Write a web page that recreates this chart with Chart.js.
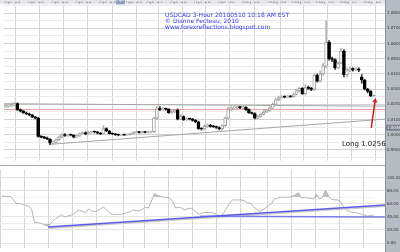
<!DOCTYPE html>
<html><head><meta charset="utf-8">
<script src="https://cdn.jsdelivr.net/npm/chart.js@4"></script>
<style>
html,body{margin:0;padding:0;background:#fff;}
#wrap{position:relative;width:400px;height:252px;overflow:hidden;font-family:"DejaVu Sans",sans-serif;}
#pA{position:absolute;left:0;top:0;width:400px;height:165px;}
#pB{position:absolute;left:0;top:165px;width:400px;height:87px;}
.t{position:absolute;white-space:nowrap;}
</style></head><body>
<div id="wrap">
<div id="pA"><canvas id="cA" width="400" height="165"></canvas></div>
<div id="pB"><canvas id="cB" width="400" height="87"></canvas></div>
<div class="t" style="left:165px;top:12px;color:#3b3bef;font-size:6px;line-height:6px">USDCAD 3-Hour 20100510 10:18 AM EST<br>© Dianne Fecteau, 2010<br>www.forexreflections.blogspot.com</div>
<div class="t" style="left:342px;top:141px;font-size:7px;line-height:7px;color:#222">Long 1.0256</div>
</div>
<script>
// ---- data ----
const dayLabels = ['Apr 19','Apr 20','Apr 21','Apr 22','Apr 23','Apr 26','Apr 27','Apr 28','Apr 29','Apr 30','May 03','May 04','May 05','May 06','May 07','May 10'];
const dayStart  = [0,8,16,24,32,41,48,56,64,72,80,89,97,105,113,121];

const open = [1.0185,1.0188,1.0190,1.0195,1.0205,1.0165,1.0155,1.0145,1.0138,1.0130,1.0118,1.0110,0.9990,0.9985,0.9980,0.9972,
0.9945,0.9950,0.9968,0.9985,1.0000,0.9995,1.0000,0.9998,0.9985,0.9995,1.0008,1.0015,1.0005,1.0015,1.0020,1.0018,
1.0010,1.0005,1.0040,1.0025,1.0008,1.0005,1.0000,0.9998,1.0000,0.9998,1.0002,1.0008,1.0015,1.0018,1.0015,1.0018,
1.0015,1.0018,1.0020,1.0110,1.0170,1.0165,1.0170,1.0168,1.0145,1.0150,1.0162,1.0103,1.0120,1.0100,1.0105,1.0103,
1.0095,1.0085,1.0040,1.0038,1.0055,1.0062,1.0055,1.0052,1.0048,1.0038,1.0060,1.0110,1.0165,1.0175,1.0178,1.0180,
1.0178,1.0180,1.0165,1.0145,1.0140,1.0110,1.0120,1.0135,1.0150,1.0160,1.0175,1.0200,1.0230,1.0245,1.0250,1.0248,
1.0252,1.0250,1.0265,1.0290,1.0305,1.0270,1.0310,1.0305,1.0298,1.0390,1.0352,1.0400,1.0451,1.0610,1.0500,1.0495,
1.0440,1.0470,1.0550,1.0395,1.0425,1.0430,1.0428,1.0432,1.0380,1.0360,1.0300,1.0285,1.0255];
const high = [1.0200,1.0205,1.0210,1.0212,1.0210,1.0170,1.0160,1.0150,1.0142,1.0135,1.0122,1.0115,0.9995,0.9990,0.9985,0.9975,
0.9960,0.9972,0.9992,1.0008,1.0008,1.0005,1.0005,1.0000,1.0000,1.0012,1.0020,1.0020,1.0022,1.0025,1.0025,1.0022,
1.0015,1.0060,1.0045,1.0030,1.0012,1.0010,1.0005,1.0005,1.0005,1.0008,1.0012,1.0020,1.0022,1.0022,1.0022,1.0022,
1.0022,1.0025,1.0115,1.0185,1.0185,1.0178,1.0175,1.0172,1.0160,1.0168,1.0170,1.0135,1.0125,1.0110,1.0110,1.0108,
1.0100,1.0090,1.0045,1.0065,1.0070,1.0068,1.0062,1.0058,1.0052,1.0065,1.0118,1.0180,1.0185,1.0185,1.0188,1.0185,
1.0186,1.0185,1.0170,1.0150,1.0145,1.0130,1.0145,1.0160,1.0168,1.0185,1.0210,1.0240,1.0255,1.0258,1.0256,1.0260,
1.0258,1.0275,1.0300,1.0312,1.0310,1.0330,1.0320,1.0312,1.0395,1.0400,1.0420,1.0470,1.0750,1.0620,1.0510,1.0500,
1.0480,1.0570,1.0560,1.0440,1.0445,1.0440,1.0440,1.0440,1.0395,1.0365,1.0305,1.0290,1.0262];
const low = [1.0180,1.0180,1.0185,1.0190,1.0160,1.0150,1.0140,1.0132,1.0125,1.0112,1.0105,0.9985,0.9980,0.9975,0.9968,0.9935,
0.9935,0.9945,0.9962,0.9980,0.9990,0.9990,0.9992,0.9980,0.9982,0.9990,1.0002,1.0000,1.0000,1.0010,1.0012,1.0005,
1.0000,1.0002,1.0020,1.0005,1.0000,0.9995,0.9992,0.9992,0.9995,0.9995,0.9998,1.0005,1.0010,1.0010,1.0010,1.0012,
1.0010,1.0012,1.0015,1.0100,1.0160,1.0160,1.0162,1.0140,1.0140,1.0145,1.0098,1.0098,1.0095,1.0095,1.0098,1.0090,
1.0080,1.0035,1.0030,1.0032,1.0048,1.0050,1.0048,1.0042,1.0032,1.0030,1.0055,1.0105,1.0160,1.0170,1.0172,1.0172,
1.0172,1.0160,1.0140,1.0135,1.0105,1.0105,1.0115,1.0130,1.0145,1.0155,1.0170,1.0195,1.0225,1.0240,1.0242,1.0242,
1.0245,1.0245,1.0260,1.0280,1.0265,1.0262,1.0298,1.0290,1.0290,1.0345,1.0345,1.0390,1.0440,1.0490,1.0480,1.0430,
1.0435,1.0465,1.0380,1.0380,1.0415,1.0418,1.0420,1.0415,1.0340,1.0295,1.0275,1.0250,1.0250];
const close = [1.0190,1.0192,1.0198,1.0205,1.0165,1.0155,1.0145,1.0138,1.0130,1.0118,1.0110,0.9990,0.9985,0.9980,0.9972,0.9945,
0.9950,0.9968,0.9985,1.0000,0.9995,1.0000,0.9998,0.9985,0.9995,1.0008,1.0015,1.0005,1.0015,1.0020,1.0018,1.0010,
1.0005,1.0040,1.0025,1.0008,1.0005,1.0000,0.9998,1.0000,0.9998,1.0002,1.0008,1.0015,1.0018,1.0015,1.0018,1.0015,
1.0018,1.0020,1.0110,1.0170,1.0165,1.0170,1.0168,1.0145,1.0150,1.0162,1.0103,1.0120,1.0100,1.0105,1.0103,1.0095,
1.0085,1.0040,1.0038,1.0055,1.0062,1.0055,1.0052,1.0048,1.0038,1.0060,1.0110,1.0165,1.0175,1.0178,1.0180,1.0178,
1.0180,1.0165,1.0145,1.0140,1.0110,1.0120,1.0135,1.0150,1.0160,1.0175,1.0200,1.0230,1.0245,1.0250,1.0248,1.0252,
1.0250,1.0265,1.0290,1.0305,1.0270,1.0310,1.0305,1.0298,1.0390,1.0352,1.0400,1.0451,1.0610,1.0500,1.0495,1.0440,
1.0470,1.0550,1.0395,1.0425,1.0430,1.0428,1.0432,1.0425,1.0360,1.0300,1.0285,1.0255,1.0258];
const rsi = [71.2,71.2,71.2,71.2,65.8,60.3,60.3,58.9,57.5,56.2,52.1,31.5,31.5,30.1,28.8,26.0,
27.4,32.9,37.0,39.7,43.8,39.7,41.1,42.5,43.8,47.9,50.7,47.9,46.6,52.1,49.3,47.9,
49.3,52.1,54.8,50.7,46.6,43.8,43.8,43.8,43.8,45.2,46.6,47.9,50.7,49.3,49.3,52.1,
54.8,53.4,64.4,75.3,72.6,71.2,69.9,69.9,68.5,64.4,53.4,54.8,53.4,50.7,52.1,53.4,
50.7,46.6,43.8,46.6,46.6,46.6,46.6,45.2,42.5,41.1,45.2,53.4,60.3,65.8,65.8,65.8,
65.8,64.4,61.6,60.3,54.8,52.1,47.9,50.7,53.4,57.5,60.3,67.1,68.5,69.9,69.9,69.9,
69.9,71.2,74.0,76.7,68.5,69.9,68.5,68.5,67.1,74.0,67.1,69.9,80.8,71.2,67.1,65.8,
65.8,63.0,54.8,50.7,47.9,46.6,46.6,45.2,43.8,42.5,41.1,42.5,42.5];

const resistX = [-0.5, 127.8], resistY = [1.0204, 1.0188];
const supportX = [15.5, 127.8], supportY = [0.9938, 1.0103];
const redLevel = 1.0166;
const arrowX = [123.2, 124.5], arrowY = [1.0046, 1.0223];
const rsiTrendAX = [15.5, 129.5], rsiTrendAY = [24.7, 58.6];
const rsiTrendBX = [66.2, 127.8], rsiTrendBY = [41.1, 39.7];
const cursorIndex = 38.7, cursorLabel = 'Apr 25', cursorPrice = 1.0046;

// ---- chart setup ----
const xMin = -0.5, xMax = 127.83;
const yMin = 0.98303, yMax = 1.0857;
Chart.defaults.font.family = 'DejaVu Sans';
const isUp = i => close[i] >= open[i];
const last = open.length - 1;
const pts = (xs, ys) => xs.map((x, k) => ({x, y: ys[k]}));
const isMajor = v => Math.abs(Math.round(v * 100) - v * 100) < 1e-6;

const bgPlugin = {
  id: 'bg',
  beforeDraw(c) {
    const {ctx, chartArea: ca, width, height} = c;
    ctx.save();
    if (c.canvas.id === 'cA') { ctx.fillStyle = '#e6e7ea'; ctx.fillRect(0, 0, width, ca.top); }
    ctx.fillStyle = '#b7bbc5'; ctx.fillRect(ca.right, 0, width - ca.right, height);
    ctx.fillStyle = '#8d919b'; ctx.fillRect(ca.right, 0, 1, height);
    ctx.restore();
  },
  afterDraw(c) {
    const {ctx, chartArea: ca} = c;
    ctx.save();
    if (c.canvas.id === 'cB') { ctx.fillStyle = '#a9a9a9'; ctx.fillRect(0, 0, ca.right, 1); }
    ctx.restore();
  }
};
const cursorPlugin = {
  id: 'cursor',
  afterDraw(c) {
    const {ctx, chartArea: ca, scales: {x, y}} = c;
    const px = x.getPixelForValue(cursorIndex), py = y.getPixelForValue(cursorPrice);
    ctx.save();
    ctx.fillStyle = '#8f9cbb'; ctx.fillRect(px - 4.5, 0, 9, ca.top);
    ctx.fillStyle = '#fff'; ctx.font = '5px DejaVu Sans'; ctx.textBaseline = 'middle';
    ctx.fillText(cursorLabel, px - 4, 0);
    ctx.fillStyle = '#7c8190'; ctx.fillRect(ca.right + 1, py - 3, c.width - ca.right - 1, 6);
    ctx.fillStyle = '#fff'; ctx.font = '4px DejaVu Sans';
    ctx.fillText(cursorPrice.toFixed(4), ca.right + 2, py);
    ctx.restore();
  }
};

const xScale = (pos, showLabels) => ({
  type: 'linear', position: pos, min: xMin, max: xMax, offset: false,
  afterBuildTicks: s => { s.ticks = dayStart.map(d => ({value: d - 0.5})); },
  afterFit: s => { s.height = showLabels ? 3 : 0; },
  ticks: {display: showLabels, autoSkip: false, maxRotation: 0, minRotation: 0, align: 'start', padding: 0,
    font: {size: 5}, color: '#7a7a7a', callback: (v, i) => dayLabels[i]},
  grid: {color: '#d6d6d6', drawTicks: false, lineWidth: 1},
  border: {display: false}
});

new Chart(document.getElementById('cA'), {
  type: 'bar',
  data: {datasets: [
    {type: 'line', data: pts(arrowX, arrowY), borderColor: '#cc1f1f', borderWidth: 1.5,
      pointRadius: [0, 3], pointStyle: 'triangle', pointRotation: 8, pointBackgroundColor: '#cc1f1f', pointBorderWidth: 0, order: 0},
    {label: 'body', data: open.map((o, i) => ({x: i, y: [Math.min(o, close[i]), Math.max(o, close[i])]})),
      grouped: false, barThickness: 3, minBarLength: 1, borderSkipped: false, borderWidth: 1,
      backgroundColor: ctx => ctx.dataIndex === last ? '#8cb8ee' : (isUp(ctx.dataIndex) ? '#ffffff' : '#000000'),
      borderColor: ctx => ctx.dataIndex === last ? '#6a9ee0' : (isUp(ctx.dataIndex) ? '#a0a0a0' : '#000000'), order: 1},
    {label: 'wick', data: low.map((l, i) => ({x: i, y: [l, high[i]]})),
      grouped: false, barThickness: 1, borderWidth: 0,
      backgroundColor: ctx => isUp(ctx.dataIndex) ? '#b4b4b4' : '#333333', order: 2},
    {type: 'line', data: pts(supportX, supportY), borderColor: '#a6a6a6', borderWidth: 1, pointRadius: 0, order: 3},
    {type: 'line', data: pts(resistX, resistY), borderColor: '#a6a6a6', borderWidth: 1, pointRadius: 0, order: 3},
    {type: 'line', data: pts([xMin, xMax], [redLevel, redLevel]), borderColor: '#eaa3a3', borderWidth: 1, pointRadius: 0, order: 4}
  ]},
  options: {
    responsive: false, animation: false, events: [],
    layout: {padding: 0},
    plugins: {legend: {display: false}, tooltip: {enabled: false}},
    scales: {
      x: xScale('top', true),
      y: {position: 'right', min: yMin, max: yMax,
        afterFit: s => { s.width = 15; },
        ticks: {stepSize: 0.005, includeBounds: false, padding: 2, font: {size: 4}, color: '#333',
          callback: v => isMajor(v) ? v.toFixed(4) : ''},
        grid: {color: ctx => isMajor(ctx.tick.value) ? '#d2d2d2' : '#ebebeb', drawTicks: false},
        border: {display: false}}
    }
  },
  plugins: [bgPlugin, cursorPlugin]
});

new Chart(document.getElementById('cB'), {
  type: 'line',
  data: {datasets: [
    {data: pts(rsiTrendAX, rsiTrendAY), borderColor: '#5c5ce6', borderWidth: 1.5, pointRadius: 0, order: 0},
    {data: pts(rsiTrendBX, rsiTrendBY), borderColor: '#7a7ae8', borderWidth: 1.5, pointRadius: 0, order: 0},
    {data: pts(rsiTrendAX, rsiTrendAY.map(v => v - 2)), borderColor: '#c8c8c8', borderWidth: 1.5, pointRadius: 0, order: 1},
    {data: rsi.map((v, i) => ({x: i, y: v})), borderColor: '#b3b3b3', borderWidth: 1, pointRadius: 0, tension: 0,
      fill: {target: {value: 70}, above: 'rgba(150,150,150,0.6)', below: 'rgba(0,0,0,0)'}, order: 2},
    {data: rsi.map((v, i) => ({x: i, y: v})), borderColor: 'rgba(0,0,0,0)', borderWidth: 0, pointRadius: 0, tension: 0,
      fill: {target: {value: 30}, above: 'rgba(0,0,0,0)', below: 'rgba(150,150,150,0.6)'}, order: 3}
  ]},
  options: {
    responsive: false, animation: false, events: [],
    layout: {padding: 0},
    plugins: {legend: {display: false}, tooltip: {enabled: false}},
    scales: {
      x: xScale('bottom', false),
      y: {position: 'right', min: -6.85, max: 112.3,
        afterFit: s => { s.width = 15; },
        ticks: {stepSize: 10, includeBounds: false, padding: 2, font: {size: 4}, color: '#333',
          callback: v => (Math.round(v) % 20 === 0) ? v.toFixed(2) : ''},
        grid: {color: ctx => [30, 50, 70].includes(Math.round(ctx.tick.value)) ? '#ababab' : '#e4e4e4', drawTicks: false},
        border: {display: false}}
    }
  },
  plugins: [bgPlugin]
});
</script>
</body></html>
